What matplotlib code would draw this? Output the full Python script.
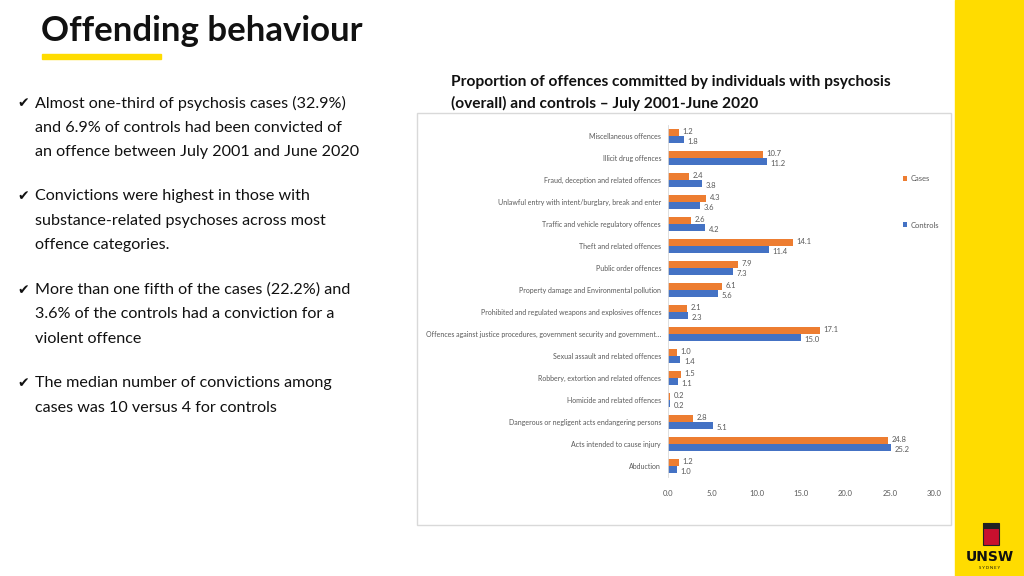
import matplotlib
matplotlib.use("Agg")
import matplotlib.pyplot as plt
from matplotlib.patches import Rectangle

plt.rcParams['font.family'] = ['Lato', 'DejaVu Sans']

categories = [
    "Miscellaneous offences",
    "Illicit drug offences",
    "Fraud, deception and related offences",
    "Unlawful entry with intent/burglary, break and enter",
    "Traffic and vehicle regulatory offences",
    "Theft and related offences",
    "Public order offences",
    "Property damage and Environmental pollution",
    "Prohibited and regulated weapons and explosives offences",
    "Offences against justice procedures, government security and government\u2026",
    "Sexual assault and related offences",
    "Robbery, extortion and related offences",
    "Homicide and related offences",
    "Dangerous or negligent acts endangering persons",
    "Acts intended to cause injury",
    "Abduction",
]
cases = [1.2, 10.7, 2.4, 4.3, 2.6, 14.1, 7.9, 6.1, 2.1, 17.1, 1.0, 1.5, 0.2, 2.8, 24.8, 1.2]
controls = [1.8, 11.2, 3.8, 3.6, 4.2, 11.4, 7.3, 5.6, 2.3, 15.0, 1.4, 1.1, 0.2, 5.1, 25.2, 1.0]
xticks = [0, 5, 10, 15, 20, 25, 30]

bullets = [
    ["Almost one-third of psychosis cases (32.9%)",
     "and 6.9% of controls had been convicted of",
     "an offence between July 2001 and June 2020"],
    ["Convictions were highest in those with",
     "substance-related psychoses across most",
     "offence categories."],
    ["More than one fifth of the cases (22.2%) and",
     "3.6% of the controls had a conviction for a",
     "violent offence"],
    ["The median number of convictions among",
     "cases was 10 versus 4 for controls"],
]

ORANGE = "#ED7D31"
BLUE = "#4472C4"
GREY = "#595959"
YELLOW = "#FFDC00"

W, H = 1024, 576
fig = plt.figure(figsize=(W / 100, H / 100), dpi=100)

def fx(px):
    return px / W

def fy(py):
    return 1 - py / H

# slide decorations
fig.patches.append(Rectangle((fx(955), 0), fx(69), 1, transform=fig.transFigure,
                             color=YELLOW, zorder=0))
fig.patches.append(Rectangle((fx(42), fy(59)), fx(119), 5 / H, transform=fig.transFigure,
                             color=YELLOW, zorder=1))
fig.patches.append(Rectangle((fx(417), fy(525)), fx(534), (525 - 113) / H,
                             transform=fig.transFigure, fill=False,
                             edgecolor="#D9D9D9", lw=1, zorder=1))
fig.text(fx(41), fy(31), "Offending behaviour", fontsize=25, fontweight="bold",
         color="#111111", va="center", ha="left")

# bullets
y = 103
for block in bullets:
    for i, line in enumerate(block):
        if i == 0:
            fig.text(fx(17), fy(y), "\u2714", fontsize=10, va="center", ha="left",
                     family=["DejaVu Sans"], color="#111111")
        fig.text(fx(35), fy(y), line, fontsize=11.6, va="center", ha="left", color="#111111")
        y += 24.5
    y += 20

# chart title
fig.text(fx(451), fy(82), "Proportion of offences committed by individuals with psychosis",
         fontsize=11.2, fontweight="bold", va="center", ha="left", color="#111111")
fig.text(fx(451), fy(103), "(overall) and controls \u2013 July 2001-June 2020",
         fontsize=11.2, fontweight="bold", va="center", ha="left", color="#111111")

# chart
ax = fig.add_axes([fx(668), fy(477), fx(934 - 668), (477 - 125) / H])
n = len(categories)
pos = list(range(n))
bh = 0.32
ax.barh([p - bh / 2 for p in pos], cases, height=bh, color=ORANGE, label="Cases")
ax.barh([p + bh / 2 for p in pos], controls, height=bh, color=BLUE, label="Controls")
for p, c, k in zip(pos, cases, controls):
    ax.text(c + 0.4, p - bh / 2 - 0.05, f"{c:.1f}", fontsize=5.5, color=GREY, va="center", ha="left")
    ax.text(k + 0.4, p + bh / 2 + 0.1, f"{k:.1f}", fontsize=5.5, color=GREY, va="center", ha="left")
ax.set_ylim(n - 0.5, -0.5)
ax.set_xlim(0, 30)
ax.set_yticks(pos)
ax.set_yticklabels(categories, fontsize=5, color=GREY)
ax.set_xticks(xticks)
ax.set_xticklabels([f"{t:.1f}" for t in xticks], fontsize=5.5, color=GREY)
ax.tick_params(length=0, pad=5)
ax.tick_params(axis="x", pad=9)
for s in ["top", "right", "bottom"]:
    ax.spines[s].set_visible(False)
ax.spines["left"].set_color("#D9D9D9")
ax.spines["left"].set_linewidth(0.6)
ax.legend(loc="upper left", bbox_to_anchor=(fx(896), fy(168)), bbox_transform=fig.transFigure,
          frameon=False, fontsize=5.5, labelspacing=5.2, handlelength=0.6, handleheight=0.6,
          handletextpad=0.4, labelcolor=GREY)

# UNSW logo (simplified)
fig.patches.append(Rectangle((fx(983), fy(545)), fx(16), 22 / H, transform=fig.transFigure,
                             facecolor="#C8102E", edgecolor="#222222", lw=0.8, zorder=2))
fig.patches.append(Rectangle((fx(983), fy(529)), fx(16), 6 / H, transform=fig.transFigure,
                             facecolor="#222222", zorder=3))
fig.text(fx(990), fy(557), "UNSW", fontsize=10, fontweight="bold", color="#111111",
         ha="center", va="center", family=["Liberation Sans Narrow", "DejaVu Sans"])
fig.text(fx(990), fy(568), "S Y D N E Y", fontsize=3, color="#111111", ha="center", va="center")

fig.savefig("out.png", dpi=100)
